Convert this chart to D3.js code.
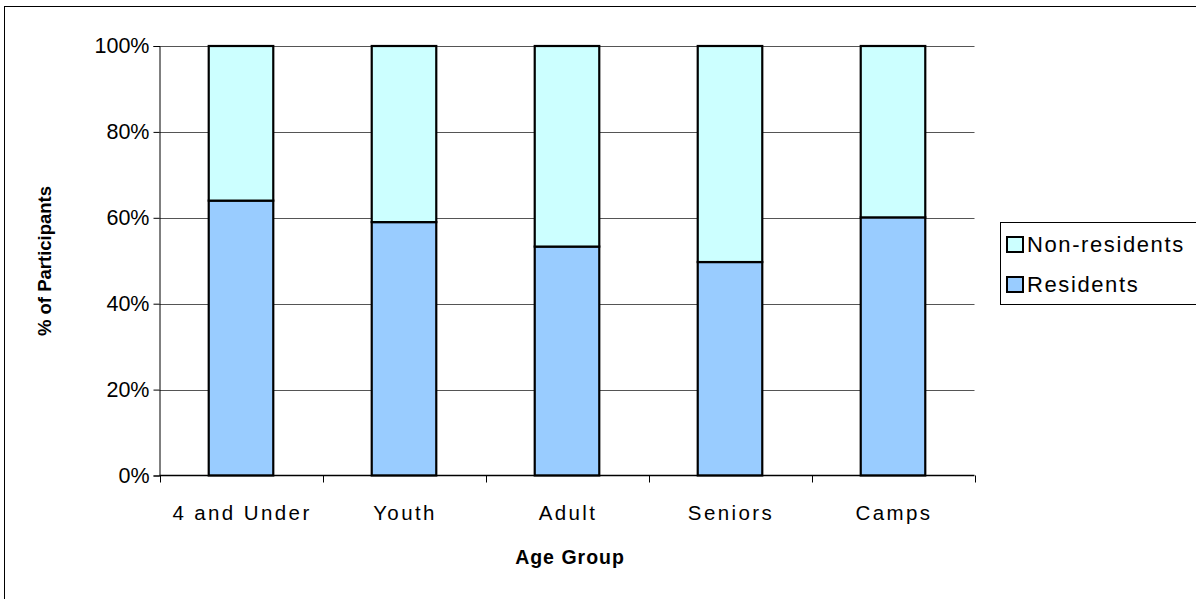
<!DOCTYPE html>
<html>
<head>
<meta charset="utf-8">
<script src="https://cdn.jsdelivr.net/npm/d3@7"></script>
<style>
  html, body { margin: 0; padding: 0; background: #fff; }
  svg { display: block; font-family: "Liberation Sans", Arial, sans-serif; }
</style>
</head>
<body>
<svg id="chart" width="1196" height="599"></svg>
<script>
// Share of participants by age group, residents vs non-residents (percent)
const categories = ["4 and Under", "Youth", "Adult", "Seniors", "Camps"];
const residents = [64, 59, 53.3, 49.7, 60.1];
const nonResidents = [36, 41, 46.7, 50.3, 39.9];
const yTicks = [0, 20, 40, 60, 80, 100];
const seriesNames = ["Residents", "Non-residents"];
const seriesColors = ["#99CCFF", "#CCFFFF"];

const svg = d3.select("#chart");
const W = 1196, H = 599;

// outer chart frame
svg.append("rect")
  .attr("x", 4.5).attr("y", 6.5)
  .attr("width", W + 10).attr("height", H + 10)
  .attr("fill", "#fff").attr("stroke", "#000").attr("stroke-width", 1);

const plot = { left: 159.5, right: 974.5, top: 46, bottom: 475.5 };

const x = d3.scaleBand()
  .domain(categories)
  .range([plot.left, plot.right])
  .paddingInner(0.604)
  .paddingOuter(0.302);

const y = d3.scaleLinear()
  .domain([0, 100])
  .range([plot.bottom, plot.top]);

// horizontal gridlines
svg.append("g")
  .selectAll("line")
  .data(yTicks.filter(d => d > 0))
  .join("line")
  .attr("x1", plot.left).attr("x2", plot.right)
  .attr("y1", d => Math.round(y(d)) + 0.5).attr("y2", d => Math.round(y(d)) + 0.5)
  .attr("stroke", "#555").attr("stroke-width", 1);

// stacked bars
const stacked = categories.map((c, i) => ({ cat: c, values: [residents[i], nonResidents[i]] }));
const bars = svg.append("g");
stacked.forEach(d => {
  let base = 0;
  d.values.forEach((v, si) => {
    const top = base + v;
    bars.append("rect")
      .attr("x", x(d.cat))
      .attr("y", y(top))
      .attr("width", x.bandwidth())
      .attr("height", y(base) - y(top))
      .attr("fill", seriesColors[si])
      .attr("stroke", "#000")
      .attr("stroke-width", 2.2);
    base = top;
  });
});

// y axis
const yAxis = d3.axisLeft(y)
  .tickValues(yTicks)
  .tickFormat(d => d + "%")
  .tickSize(6)
  .tickPadding(4);
const gy = svg.append("g")
  .attr("transform", `translate(${plot.left},0)`)
  .call(yAxis);
gy.select(".domain").attr("stroke", "#000");
gy.selectAll(".tick line").attr("stroke", "#000");
gy.selectAll(".tick text")
  .attr("font-size", 21.5).attr("fill", "#000")
  .attr("font-family", "Liberation Sans, Arial, sans-serif");

// x axis: ticks sit on category boundaries
const boundaries = d3.range(categories.length + 1).map(i => plot.left + i * x.step());
const gx = svg.append("g");
gx.append("line")
  .attr("x1", plot.left).attr("x2", plot.right)
  .attr("y1", plot.bottom).attr("y2", plot.bottom)
  .attr("stroke", "#000").attr("stroke-width", 1.5);
gx.selectAll("line.tk")
  .data(boundaries)
  .join("line").attr("class", "tk")
  .attr("x1", d => Math.round(d) + 0.5).attr("x2", d => Math.round(d) + 0.5)
  .attr("y1", plot.bottom).attr("y2", plot.bottom + 7)
  .attr("stroke", "#000");
gx.selectAll("text")
  .data(categories)
  .join("text")
  .attr("x", d => x(d) + x.bandwidth() / 2 + 1)
  .attr("y", 520)
  .attr("text-anchor", "middle")
  .attr("font-size", 20.5)
  .attr("letter-spacing", 2.4)
  .text(d => d);

// axis titles
svg.append("text")
  .attr("x", 570).attr("y", 564)
  .attr("text-anchor", "middle")
  .attr("font-size", 19.5).attr("font-weight", "bold")
  .attr("letter-spacing", 1)
  .text("Age Group");

svg.append("text")
  .attr("transform", "translate(51,261) rotate(-90)")
  .attr("text-anchor", "middle")
  .attr("font-size", 18.5).attr("font-weight", "bold")
  .text("% of Participants");

// legend
const legend = svg.append("g");
legend.append("rect")
  .attr("x", 1000.5).attr("y", 222.5)
  .attr("width", 210).attr("height", 82)
  .attr("fill", "#fff").attr("stroke", "#000");
const legendItems = [
  { name: seriesNames[1], color: seriesColors[1] },
  { name: seriesNames[0], color: seriesColors[0] }
];
legendItems.forEach((it, i) => {
  const cy = 244 + i * 40;
  legend.append("rect")
    .attr("x", 1007).attr("y", cy - 7)
    .attr("width", 16).attr("height", 15)
    .attr("fill", it.color).attr("stroke", "#000").attr("stroke-width", 2);
  legend.append("text")
    .attr("x", 1027).attr("y", cy + 8)
    .attr("font-size", 22)
    .attr("letter-spacing", 1.6)
    .text(it.name);
});
</script>
</body>
</html>
